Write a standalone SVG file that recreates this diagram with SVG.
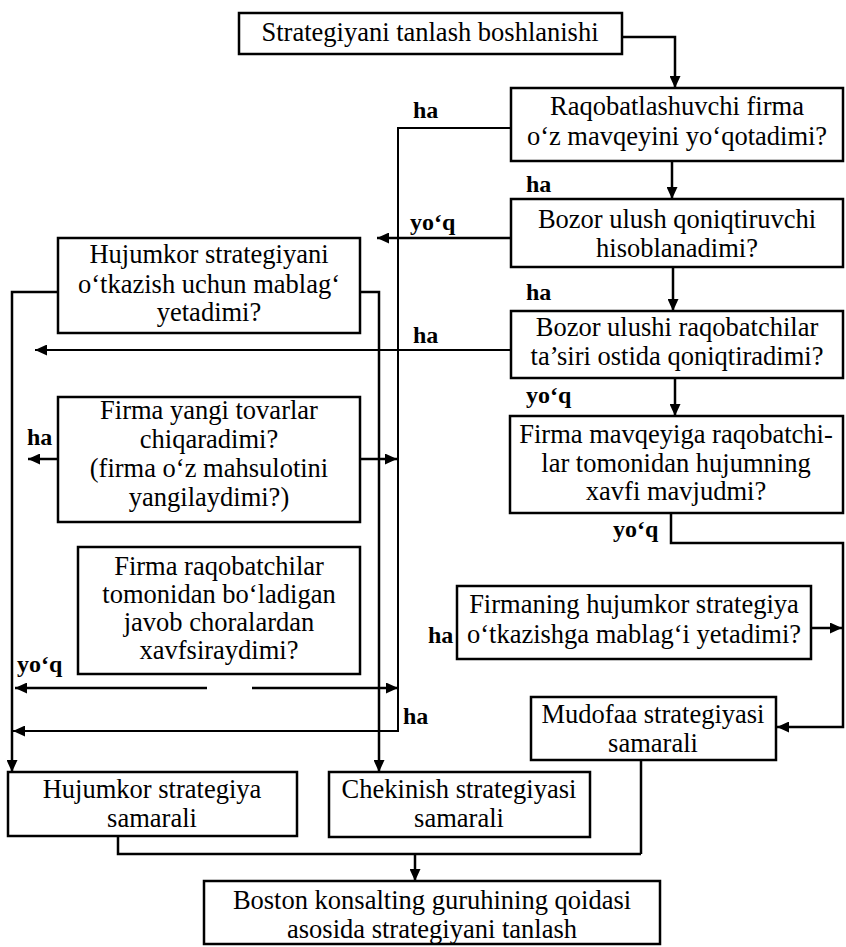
<svg xmlns="http://www.w3.org/2000/svg" width="846" height="947" viewBox="0 0 846 947">
<defs>
<style>
.box{fill:#fff;stroke:#000;stroke-width:2.5}
.t{font-family:"Liberation Serif","Times New Roman",serif;font-size:26.5px;text-anchor:middle;fill:#000}
.lbl{font-family:"Liberation Serif","Times New Roman",serif;font-size:24px;font-weight:bold;fill:#000}
.c{fill:none;stroke:#000;stroke-width:2.5}
.c2{fill:none;stroke:#000;stroke-width:2}
</style>
<marker id="ah" viewBox="0 0 12 11" refX="12" refY="5.5" markerWidth="12" markerHeight="11" markerUnits="userSpaceOnUse" orient="auto"><path d="M0,0 L12,5.5 L0,11 Z" fill="#000"/></marker>
</defs>
<rect width="846" height="947" fill="#fff"/>
<g id="connectors">
<path class="c" d="M622,37 H675 V88" marker-end="url(#ah)"/>
<path class="c" d="M672,161 V199" marker-end="url(#ah)"/>
<path class="c" d="M673,267 V311" marker-end="url(#ah)"/>
<path class="c" d="M675,378 V416" marker-end="url(#ah)"/>
<path class="c" d="M671,513 V543 H843 V727 H777" marker-end="url(#ah)"/>
<path class="c" d="M811,628 H842" marker-end="url(#ah)"/>
<path class="c" d="M641,760 V854"/>
<path class="c" d="M118,836 V854 H641"/>
<path class="c" d="M415,854 V881" marker-end="url(#ah)"/>
<path class="c2" d="M511,128 H398 V731 H13" marker-end="url(#ah)"/>
<path class="c" d="M511,238 H377" marker-end="url(#ah)"/>
<path class="c2" d="M511,350 H35" marker-end="url(#ah)"/>
<path class="c" d="M58,292 H12 V772" marker-end="url(#ah)"/>
<path class="c" d="M360,292 H379 V772" marker-end="url(#ah)"/>
<path class="c" d="M58,459 H28" marker-end="url(#ah)"/>
<path class="c" d="M360,459 H397" marker-end="url(#ah)"/>
<path class="c" d="M207,688 H15" marker-end="url(#ah)"/>
<path class="c" d="M252,688 H398" marker-end="url(#ah)"/>
</g>
<g id="edge-labels">
<text class="lbl" x="413" y="118">ha</text>
<text class="lbl" x="526" y="192">ha</text>
<text class="lbl" x="410" y="230">yo‘q</text>
<text class="lbl" x="526" y="300">ha</text>
<text class="lbl" x="413" y="343">ha</text>
<text class="lbl" x="526" y="403">yo‘q</text>
<text class="lbl" x="27" y="445">ha</text>
<text class="lbl" x="613" y="537">yo‘q</text>
<text class="lbl" x="428" y="643">ha</text>
<text class="lbl" x="17" y="672">yo‘q</text>
<text class="lbl" x="403" y="724">ha</text>
</g>
<g id="start">
<rect class="box" x="239" y="13" width="383" height="41"/>
<text class="t" x="430" y="41">Strategiyani tanlash boshlanishi</text>
</g>
<g id="q-loses-position">
<rect class="box" x="511" y="88" width="332" height="73"/>
<text class="t" x="677" y="115">Raqobatlashuvchi firma</text>
<text class="t" x="677" y="145">o‘z mavqeyini yo‘qotadimi?</text>
</g>
<g id="q-market-share">
<rect class="box" x="511" y="199" width="332" height="68"/>
<text class="t" x="677" y="228">Bozor ulush qoniqtiruvchi</text>
<text class="t" x="677" y="257">hisoblanadimi?</text>
</g>
<g id="q-share-under-competition">
<rect class="box" x="511" y="311" width="332" height="67"/>
<text class="t" x="677" y="336">Bozor ulushi raqobatchilar</text>
<text class="t" x="677" y="365">ta’siri ostida qoniqtiradimi?</text>
</g>
<g id="q-attack-threat">
<rect class="box" x="510" y="416" width="333" height="97"/>
<text class="t" x="676" y="443">Firma mavqeyiga raqobatchi-</text>
<text class="t" x="676" y="472">lar tomonidan hujumning</text>
<text class="t" x="676" y="500">xavfi mavjudmi?</text>
</g>
<g id="q-firm-funds">
<rect class="box" x="457" y="586" width="354" height="73"/>
<text class="t" x="634" y="613">Firmaning hujumkor strategiya</text>
<text class="t" x="634" y="643">o‘tkazishga mablag‘i yetadimi?</text>
</g>
<g id="defense">
<rect class="box" x="531" y="697" width="245" height="63"/>
<text class="t" x="653" y="723">Mudofaa strategiyasi</text>
<text class="t" x="653" y="752">samarali</text>
</g>
<g id="q-offensive-funds">
<rect class="box" x="58" y="238" width="302" height="95"/>
<text class="t" x="209" y="263">Hujumkor strategiyani</text>
<text class="t" x="209" y="293">o‘tkazish uchun mablag‘</text>
<text class="t" x="209" y="321">yetadimi?</text>
</g>
<g id="q-new-products">
<rect class="box" x="58" y="397" width="302" height="125"/>
<text class="t" x="209" y="419">Firma yangi tovarlar</text>
<text class="t" x="209" y="448">chiqaradimi?</text>
<text class="t" x="209" y="477">(firma o‘z mahsulotini</text>
<text class="t" x="209" y="506">yangilaydimi?)</text>
</g>
<g id="q-fears-response">
<rect class="box" x="78" y="547" width="282" height="127"/>
<text class="t" x="219" y="575">Firma raqobatchilar</text>
<text class="t" x="219" y="603">tomonidan bo‘ladigan</text>
<text class="t" x="219" y="631">javob choralardan</text>
<text class="t" x="219" y="659">xavfsiraydimi?</text>
</g>
<g id="offensive">
<rect class="box" x="8" y="772" width="289" height="64"/>
<text class="t" x="152" y="798">Hujumkor strategiya</text>
<text class="t" x="152" y="827">samarali</text>
</g>
<g id="retreat">
<rect class="box" x="329" y="772" width="261" height="65"/>
<text class="t" x="459" y="798">Chekinish strategiyasi</text>
<text class="t" x="459" y="827">samarali</text>
</g>
<g id="boston">
<rect class="box" x="204" y="881" width="456" height="63"/>
<text class="t" x="432" y="909">Boston konsalting guruhining qoidasi</text>
<text class="t" x="432" y="938">asosida strategiyani tanlash</text>
</g>
</svg>
